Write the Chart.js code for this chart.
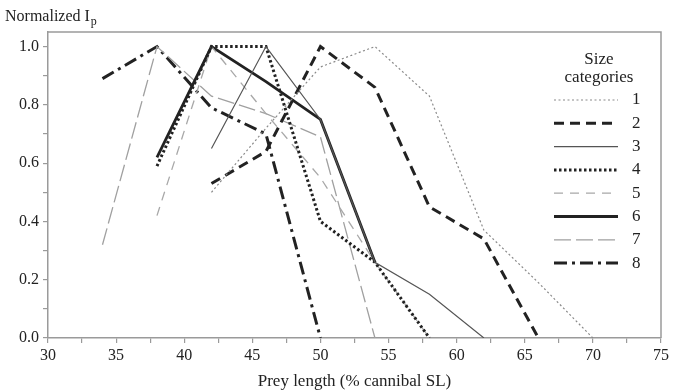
<!DOCTYPE html>
<html>
<head>
<meta charset="utf-8">
<script src="https://cdn.jsdelivr.net/npm/chart.js@4.4.1/dist/chart.umd.min.js"></script>
<style>
    html, body { margin: 0; padding: 0; background: #fff; }
    #wrap { width: 681px; height: 392px; }
</style>
</head>
<body>
<div id="wrap"><canvas id="myChart" width="681" height="392"></canvas></div>
<script>
// prey length (% cannibal SL) at which each size category was sampled
var preyLength = [34, 38, 42, 46, 50, 54, 58, 62, 66, 70];

// normalized Ip per size category (null = not sampled)
var size1 = [null, null, 0.50, 0.72, 0.93, 1.00, 0.83, 0.37, 0.19, 0.00];
var size2 = [null, null, 0.53, 0.64, 1.00, 0.86, 0.45, 0.34, 0.00, null];
var size3 = [null, null, 0.65, 1.00, 0.75, 0.26, 0.15, 0.00, null, null];
var size4 = [null, 0.59, 1.00, 1.00, 0.40, 0.26, 0.00, null, null, null];
var size5 = [null, 0.42, 1.00, 0.77, 0.55, 0.26, 0.00, null, null, null];
var size6 = [null, 0.62, 1.00, 0.88, 0.75, 0.26, null, null, null, null];
var size7 = [0.32, 1.00, 0.83, 0.77, 0.69, 0.00, null, null, null, null];
var size8 = [0.89, 1.00, 0.79, 0.70, 0.00, null, null, null, null, null];

var categoryNames = ['1', '2', '3', '4', '5', '6', '7', '8'];
var xTickLabels = ['30', '35', '40', '45', '50', '55', '60', '65', '70', '75'];
var yTickLabels = ['0.0', '0.2', '0.4', '0.6', '0.8', '1.0'];

var serif = "'Liberation Serif', 'DejaVu Serif', serif";

function toPoints(arr) {
    var pts = [];
    arr.forEach(function (v, i) {
        if (v !== null) pts.push({x: preyLength[i], y: v});
    });
    return pts;
}

var styles = [
    {color: '#8a8a8a', width: 1.2, dash: [2, 2.5]},
    {color: '#222222', width: 3, dash: [10, 6]},
    {color: '#555555', width: 1.2, dash: []},
    {color: '#222222', width: 3, dash: [2.5, 2.5]},
    {color: '#a8a8a8', width: 1.3, dash: [9, 7]},
    {color: '#222222', width: 2.8, dash: []},
    {color: '#a0a0a0', width: 1.3, dash: [17, 5]},
    {color: '#222222', width: 3, dash: [13, 5, 3, 5]}
];

var allSeries = [size1, size2, size3, size4, size5, size6, size7, size8];

var datasets = allSeries.map(function (s, i) {
    return {
        label: categoryNames[i],
        data: toPoints(s),
        borderColor: styles[i].color,
        backgroundColor: styles[i].color,
        borderWidth: styles[i].width,
        borderDash: styles[i].dash,
        pointRadius: 0,
        tension: 0,
        fill: false
    };
});

// box round the plot area (top + right edges)
var framePlugin = {
    id: 'frame',
    beforeDatasetsDraw: function (chart) {
        var a = chart.chartArea, c = chart.ctx;
        c.save();
        c.strokeStyle = '#9a9a9a';
        c.lineWidth = 1.5;
        c.beginPath();
        c.moveTo(a.left, a.top);
        c.lineTo(a.right, a.top);
        c.lineTo(a.right, a.bottom);
        c.stroke();
        c.restore();
    }
};

// "Normalized Ip" above the y axis
var yTitlePlugin = {
    id: 'yTitle',
    afterDraw: function (chart) {
        var c = chart.ctx;
        c.save();
        c.fillStyle = '#222';
        c.textBaseline = 'alphabetic';
        c.font = '16px ' + serif;
        c.fillText('Normalized I', 5, 21);
        var w = c.measureText('Normalized I').width;
        c.font = '12px ' + serif;
        c.fillText('p', 5 + w + 1, 25);
        c.restore();
    }
};

// legend inside the plot, right side
var legendPlugin = {
    id: 'sizeLegend',
    afterDraw: function (chart) {
        var c = chart.ctx;
        c.save();
        c.fillStyle = '#222';
        c.font = '17px ' + serif;
        c.textAlign = 'center';
        c.textBaseline = 'middle';
        c.fillText('Size', 599, 60);
        c.fillText('categories', 599, 78);
        chart.data.datasets.forEach(function (ds, i) {
            var y = 100 + i * 23.3;
            c.strokeStyle = ds.borderColor;
            c.lineWidth = ds.borderWidth;
            c.setLineDash(ds.borderDash);
            c.beginPath();
            c.moveTo(554, y);
            c.lineTo(618, y);
            c.stroke();
            c.setLineDash([]);
            c.textAlign = 'left';
            c.fillText(ds.label, 632, y);
        });
        c.restore();
    }
};

var ctx = document.getElementById('myChart');
var myChart = new Chart(ctx, {
    type: 'line',
    data: {datasets: datasets},
    plugins: [framePlugin, yTitlePlugin, legendPlugin],
    options: {
        responsive: false,
        animation: false,
        layout: {padding: {top: 32, right: 20, left: 0, bottom: 0}},
        plugins: {
            legend: {display: false},
            tooltip: {enabled: false}
        },
        scales: {
            x: {
                type: 'linear',
                min: 30,
                max: 75,
                afterFit: function (scale) { scale.height = 54; },
                afterBuildTicks: function (scale) {
                    var t = [];
                    for (var v = 30; v <= 75; v += 2.5) t.push({value: v});
                    scale.ticks = t;
                },
                ticks: {
                    autoSkip: false,
                    maxRotation: 0,
                    padding: 3,
                    color: '#222',
                    font: {family: serif, size: 16},
                    callback: function (v) {
                        var i = xTickLabels.indexOf(String(v));
                        return i >= 0 ? xTickLabels[i] : '';
                    }
                },
                grid: {display: true, drawOnChartArea: false, tickLength: 5, color: '#9a9a9a', lineWidth: 1.2},
                border: {display: true, color: '#9a9a9a', width: 1.5},
                title: {
                    display: true,
                    text: 'Prey length (% cannibal SL)',
                    color: '#222',
                    font: {family: serif, size: 17},
                    padding: {top: 2, bottom: 0}
                }
            },
            y: {
                type: 'linear',
                min: 0,
                max: 1.05,
                afterFit: function (scale) { scale.width = 48; },
                afterBuildTicks: function (scale) {
                    var t = [];
                    for (var k = 0; k <= 10; k++) t.push({value: k / 10});
                    scale.ticks = t;
                },
                ticks: {
                    autoSkip: false,
                    padding: 4,
                    color: '#222',
                    font: {family: serif, size: 16},
                    callback: function (v) {
                        var i = yTickLabels.indexOf(Number(v).toFixed(1));
                        return i >= 0 ? yTickLabels[i] : '';
                    }
                },
                grid: {display: true, drawOnChartArea: false, tickLength: 5, color: '#9a9a9a', lineWidth: 1.2},
                border: {display: true, color: '#9a9a9a', width: 1.5}
            }
        }
    }
});
</script>
</body>
</html>
